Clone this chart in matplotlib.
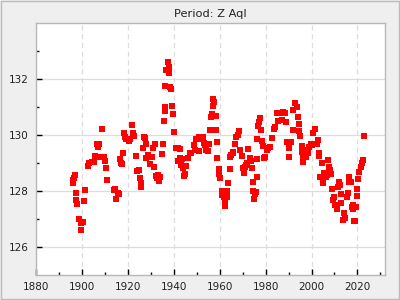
import matplotlib
matplotlib.use("Agg")
import matplotlib.pyplot as plt
from matplotlib.ticker import MultipleLocator, FixedLocator
from matplotlib.patches import Rectangle

title = "Period: Z Aql"

years = [
    1895.9, 1896.2, 1896.4, 1896.9, 1897.3, 1897.6, 1898.0, 1898.6, 1899.7, 1900.4,
    1899.5, 1900.8, 1901.2, 1902.5, 1903.1, 1904.3, 1905.1, 1905.6, 1906.6, 1907.0,
    1907.5, 1908.6, 1908.0, 1909.5, 1909.9, 1910.3, 1910.8, 1913.8, 1914.3, 1914.7,
    1915.6, 1916.2, 1916.4, 1917.0, 1917.3, 1917.7, 1918.2, 1918.6, 1919.3, 1920.3,
    1920.8, 1921.7, 1922.3, 1922.8, 1923.4, 1924.0, 1924.9, 1925.4, 1925.9, 1925.6,
    1926.9, 1927.5, 1927.8, 1926.4, 1928.6, 1928.0, 1928.9, 1929.8, 1930.4, 1931.1,
    1931.7, 1931.5, 1932.4, 1933.1, 1933.8, 1932.7, 1933.4, 1934.7, 1935.3, 1935.6,
    1936.0, 1936.2, 1936.4, 1936.7, 1937.3, 1937.8, 1937.9, 1938.5, 1938.8,
    1939.3, 1939.6, 1939.9, 1940.8, 1941.7, 1942.5, 1941.7, 1942.8, 1943.6, 1943.3,
    1944.0, 1944.6, 1945.4, 1944.3, 1945.1, 1946.4, 1947.2, 1947.7, 1948.6, 1949.2,
    1949.8, 1950.8, 1951.2, 1952.1, 1952.7, 1953.0, 1953.4, 1954.1, 1954.7, 1955.3,
    1955.6, 1956.2, 1956.7, 1957.0, 1957.3, 1957.7, 1958.2, 1958.6, 1959.0, 1959.0,
    1959.5, 1959.9, 1960.2, 1960.8, 1961.2, 1961.7, 1962.1, 1962.5, 1963.1, 1963.4,
    1963.8, 1964.3, 1964.6, 1965.1, 1965.7, 1966.0, 1966.7, 1967.2, 1967.9, 1968.6,
    1968.9, 1969.7, 1970.3, 1970.7, 1971.1, 1971.5, 1972.1, 1972.5, 1973.0, 1973.6,
    1974.0, 1974.3, 1974.4, 1975.0, 1975.4, 1975.9, 1976.2, 1976.2, 1976.4, 1976.9,
    1977.3, 1977.6, 1978.0, 1978.3, 1978.8, 1979.3, 1979.9, 1980.5, 1981.2, 1982.0,
    1982.7, 1983.7, 1984.3, 1984.9, 1985.6, 1986.3, 1987.0, 1987.7, 1988.5, 1988.9,
    1989.5, 1990.3, 1991.0, 1990.3, 1991.8, 1992.1, 1993.0, 1993.6, 1994.0, 1994.4,
    1994.7, 1995.1, 1996.0, 1995.7, 1996.4, 1996.4, 1997.0, 1997.6, 1998.2, 1998.6,
    1999.0, 1999.7, 2000.2, 2000.8, 2001.7, 2002.3, 2003.0, 2003.4, 2003.4, 2004.7,
    2003.7, 2004.4, 2005.1, 2005.6, 2006.3, 2006.9, 2007.3, 2007.7, 2008.0, 2008.5,
    2008.9, 2009.5, 2009.9, 2010.3, 2011.0, 2011.4, 2011.8, 2012.4, 2013.0, 2013.0,
    2013.6, 2014.3, 2014.7, 2015.3, 2015.8, 2016.2, 2016.4, 2017.0, 2017.5, 2017.9,
    2018.2, 2019.3, 2018.5, 2019.0, 2019.7, 2019.9, 2020.3, 2020.8, 2021.4, 2022.0,
    2022.5, 2023.0,
]

periods = [
    128.28, 128.39, 128.45, 128.56, 127.92, 127.68, 127.54, 126.99, 126.87, 126.88,
    126.61, 127.64, 128.02, 128.89, 129.01, 129.02, 129.02, 129.25, 129.68, 129.56,
    129.68, 130.20, 129.20, 129.20, 129.07, 128.81, 128.38, 128.04, 128.07, 127.70,
    127.94, 127.88, 129.13, 129.01, 128.96, 129.35, 130.06, 129.94, 129.86, 129.80,
    129.85, 130.35, 130.08, 129.98, 129.25, 128.72, 128.75, 128.45, 128.28, 128.14,
    129.94, 129.89, 129.67, 129.52, 129.29, 129.17, 129.25, 128.96, 129.22, 129.55,
    129.67, 128.87, 128.55, 128.57, 128.51, 128.45, 128.36, 129.31, 129.67, 130.50,
    130.86, 131.01, 131.75, 132.32, 132.60, 132.44, 132.20, 131.73, 131.63,
    131.04, 130.75, 130.10, 129.52, 129.52, 129.49, 129.08, 129.17, 129.15, 128.92,
    128.81, 128.89, 128.89, 128.54, 128.61, 129.18, 129.37, 129.35, 129.64, 129.45,
    129.85, 129.43, 129.94, 129.87, 129.92, 129.70, 129.64, 129.46, 129.43, 129.68,
    130.18, 130.65, 130.75, 131.04, 131.27, 131.19, 130.68, 130.18, 129.74, 129.17,
    128.78, 128.61, 128.45, 128.01, 127.86, 127.77, 127.46, 127.62, 127.80, 128.01,
    128.30, 128.79, 129.20, 129.29, 129.35, 129.40, 129.67, 129.92, 130.00, 130.15,
    129.46, 129.25, 128.81, 128.63, 128.87, 128.93, 129.01, 129.49, 129.17, 129.07,
    128.81, 128.31, 128.01, 127.70, 127.89, 127.96, 128.51, 129.13, 129.85, 130.32,
    130.48, 130.60, 130.18, 129.79, 129.61, 129.17, 129.22, 129.46, 129.52, 129.58,
    129.88, 130.20, 130.27, 130.78, 130.51, 130.78, 130.54, 130.83, 130.78, 130.48,
    129.76, 129.52, 129.76, 129.20, 130.18, 130.89, 131.13, 131.01, 130.65, 130.39,
    130.14, 129.96, 129.61, 129.40, 129.25, 129.02, 129.40, 129.20, 129.46, 129.35,
    129.58, 129.68, 129.64, 130.06, 130.20, 129.68, 129.82, 129.35, 129.25, 128.99,
    128.49, 128.49, 128.28, 128.65, 128.51, 128.57, 129.11, 128.87, 128.75, 128.61,
    128.06, 127.68, 127.77, 127.50, 127.35, 128.15, 128.33, 128.21, 127.89, 127.56,
    126.96, 127.22, 127.02, 127.80, 127.94, 128.33, 128.49, 128.33, 127.44, 127.35,
    127.50, 127.44, 126.93, 126.93, 127.82, 128.07, 128.42, 128.69, 128.85, 129.01,
    129.11, 129.96,
]

y_major = [126, 128, 130, 132]
y_minor = [127, 129, 131, 133]

fig = plt.figure(figsize=(4, 3), dpi=100, facecolor="#efefef")
fig.patches.append(Rectangle((0.002, 0.003), 0.995, 0.994, transform=fig.transFigure,
                             fill=False, edgecolor="#bbbbbb", linewidth=1.0))
ax = fig.add_axes([0.09, 0.0833, 0.8725, 0.8384])
ax.set_facecolor("white")

ax.plot(years, periods, linestyle="none", marker="s", markersize=4.3,
        color="#ff0000", markeredgewidth=0, zorder=3)

ax.set_xlim(1880, 2032)
ax.set_ylim(125, 133.98)
ax.xaxis.set_major_locator(MultipleLocator(20))
ax.xaxis.set_minor_locator(MultipleLocator(10))
ax.yaxis.set_major_locator(FixedLocator(y_major))
ax.yaxis.set_minor_locator(FixedLocator(y_minor))

ax.grid(axis="x", which="major", linestyle=(0, (4, 3)), color="#dddddd", linewidth=0.9)
ax.grid(axis="y", which="major", linestyle="-", color="#dddddd", linewidth=0.9)
ax.set_axisbelow(True)

for s in ax.spines.values():
    s.set_color("#b8b8b8")
    s.set_linewidth(1.0)

ax.tick_params(which="both", direction="in", top=False, right=False,
               color="black", labelsize=7.5, labelcolor="#222222")
ax.tick_params(which="major", length=4, width=1, pad=5)
ax.tick_params(which="minor", length=2.5, width=1)

ax.set_title(title, fontsize=8.2, color="#222222", pad=5)

fig.savefig("out.png", dpi=100, facecolor=fig.get_facecolor())
